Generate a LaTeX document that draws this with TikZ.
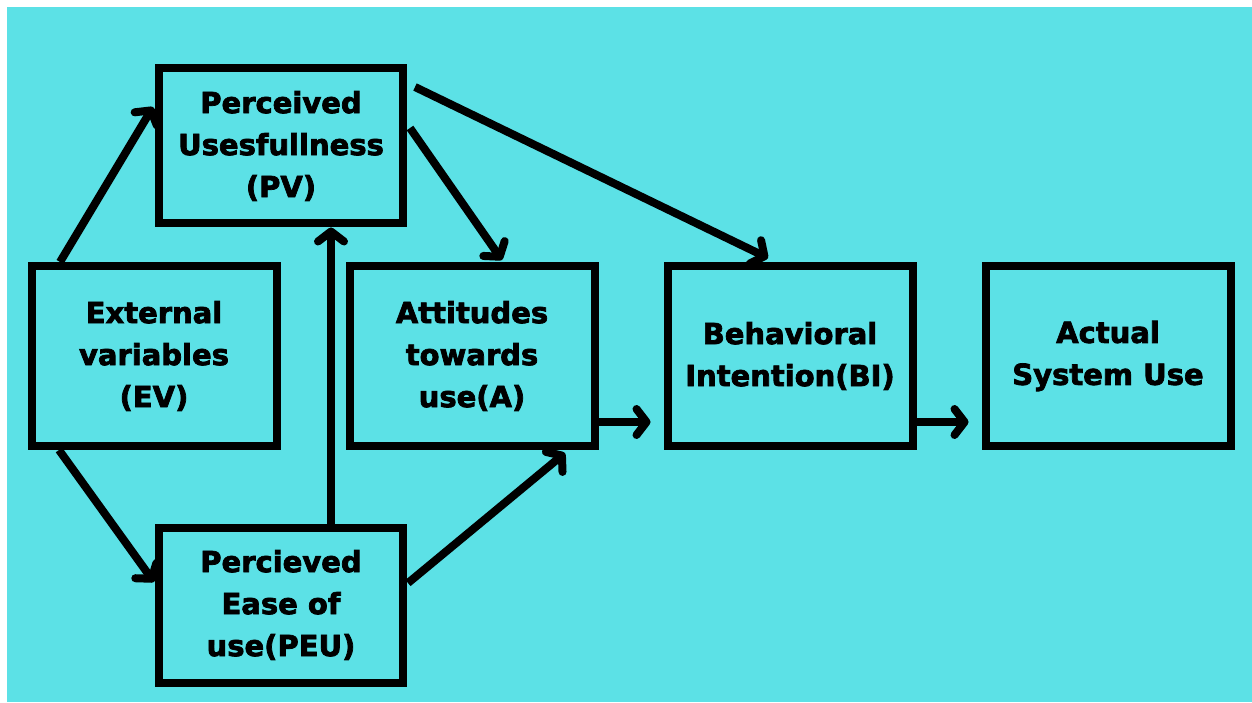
\documentclass[tikz,border=0pt]{standalone}
\usepackage{fontspec}
\setmainfont{DejaVu Sans}[BoldFeatures={FakeBold=2.5}]
\usepackage{tikz}
\usetikzlibrary{positioning,arrows.meta,calc}
\definecolor{tamcyan}{RGB}{92,225,230}
\tikzset{>={Straight Barb[round,length=10pt,width=26pt]}}
\tikzset{
  factor/.style={draw, line width=8pt, minimum width=245pt, minimum height=180pt,
    align=center, font=\bfseries\fontsize{29}{42}\selectfont},
  percbox/.style={factor, minimum width=244pt, minimum height=155pt}
}

\begin{document}
\begin{tikzpicture}[x=1pt, y=1pt, node distance=318pt]

      \useasboundingbox (0,0) rectangle (1252,702);
      \fill[white] (0,0) rectangle (1252,702);
      \fill[tamcyan] (7,0) rectangle (1252,695); %background

      \node[factor] (ev) at (154,346) {External\\variables\\(EV)};
      \node[factor] (att) [right of=ev] {Attitudes\\towards\\use(A)};
      \node[factor] (bi) [right of=att] {Behavioral\\Intention(BI)};
      \node[factor] (asu) [right of=bi] {Actual\\System Use};
      \node[percbox] (pv) at (281,556) {Perceived\\Usesfullness\\(PV)};
      \node[percbox] (peu) at (281,97) {Percieved\\Ease of\\use(PEU)};

      \path[->, line width=8pt]
        ([xshift=-94pt]ev.north) edge ([xshift=-2pt,yshift=39pt]pv.west)
        ([xshift=-95pt]ev.south) edge ([xshift=-1pt,yshift=23pt]peu.west)
        ([xshift=50pt]peu.north) edge ([xshift=50pt]pv.south)
        ([xshift=3pt,yshift=18pt]pv.east) edge ([xshift=30pt,yshift=2pt]att.north)
        ([xshift=8pt,yshift=59pt]pv.east) edge ([xshift=-22pt,yshift=4pt]bi.north)
        ([xshift=1pt,yshift=22pt]peu.east) edge ([xshift=93pt,yshift=-3pt]att.south)
        ([yshift=-66pt]att.east) edge ([xshift=-13pt,yshift=-66pt]bi.west)
        ([yshift=-66pt]bi.east) edge ([xshift=-13pt,yshift=-66pt]asu.west);

\end{tikzpicture}
\end{document}
